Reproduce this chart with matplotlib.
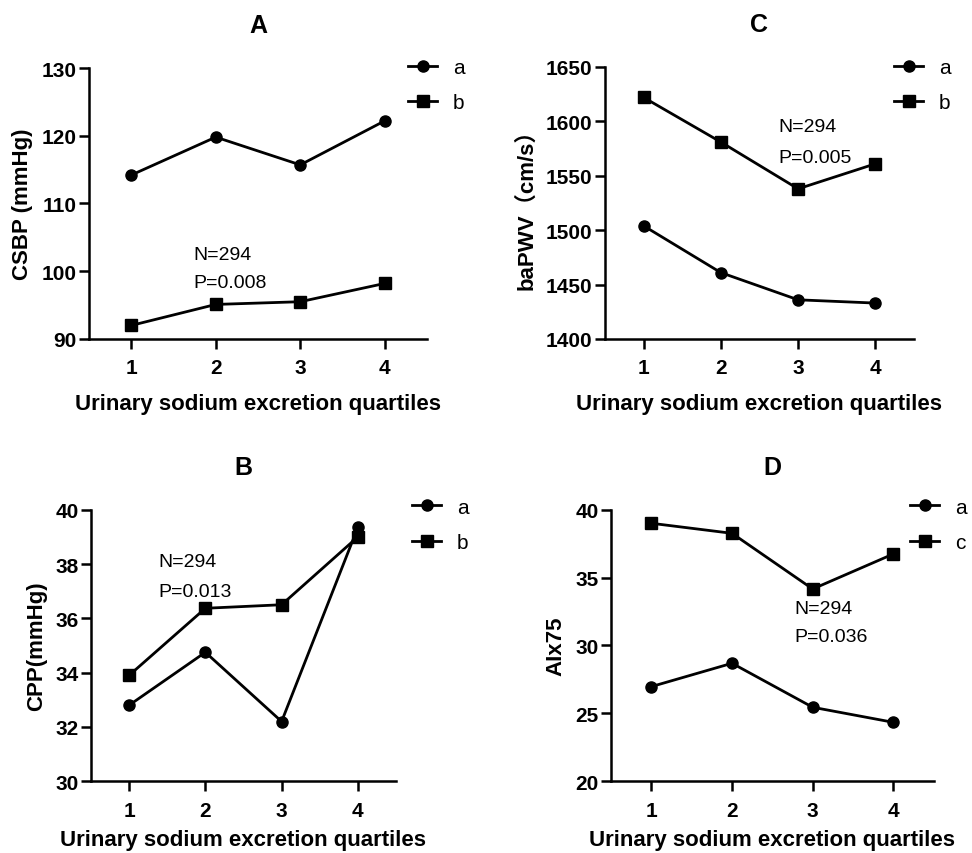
import matplotlib
matplotlib.use('Agg')
import matplotlib.pyplot as plt

plt.rcParams['font.family'] = ['Liberation Sans', 'Noto Sans CJK SC', 'DejaVu Sans']

quartiles = [1, 2, 3, 4]

# panel A: CSBP
csbp_a = [114.2, 119.8, 115.7, 122.2]
csbp_b = [92.0, 95.1, 95.5, 98.2]

# panel B: CPP
cpp_a = [32.8, 34.75, 32.2, 39.35]
cpp_b = [33.9, 36.37, 36.5, 39.0]

# panel C: baPWV
pwv_a = [1504, 1461, 1436, 1433]
pwv_b = [1622, 1581, 1538, 1561]

# panel D: AIx75
aix_a = [26.97, 28.69, 25.45, 24.34]
aix_c = [39.0, 38.26, 34.16, 36.74]

panels = [
    # title, ylabel, series a, series 2, label 2, ylim, yticks, text pos, p text, axes rect, legend anchor, xlabel pad
    ('A', 'CSBP (mmHg)', csbp_a, csbp_b, 'b', (90, 130), [90, 100, 110, 120, 130],
     (1.73, 102.5, 98.4), 'P=0.008', [0.0916, 0.6019, 0.3477, 0.3173], (0.4198, 0.931), 11),
    ('C', 'baPWV（cm/s）', pwv_a, pwv_b, 'b', (1400, 1650), [1400, 1450, 1500, 1550, 1600, 1650],
     (2.75, 1595, 1567), 'P=0.005', [0.6224, 0.6019, 0.3179, 0.3185], (0.9198, 0.931), 11),
    ('B', 'CPP(mmHg)', cpp_a, cpp_b, 'b', (30, 40), [30, 32, 34, 36, 38, 40],
     (1.39, 38.09, 37.0), 'P=0.013', [0.0936, 0.0840, 0.3138, 0.318], (0.4239, 0.416), 7),
    ('D', 'AIx75', aix_a, aix_c, 'c', (20, 40), [20, 25, 30, 35, 40],
     (2.77, 32.69, 30.68), 'P=0.036', [0.6286, 0.0840, 0.332, 0.318], (0.9365, 0.416), 7),
]

fig = plt.figure(figsize=(9.72, 8.54), dpi=100)

for title, ylabel, ya, y2, lab2, ylim, yticks, tpos, ptext, rect, leg_xy, xpad in panels:
    ax = fig.add_axes(rect)
    ax.plot(quartiles, ya, color='black', lw=2, marker='o', ms=8, label='a', clip_on=False)
    ax.plot(quartiles, y2, color='black', lw=2, marker='s', ms=8, label=lab2, clip_on=False)
    ax.set_xlim(0.5, 4.5)
    ax.set_ylim(*ylim)
    ax.set_xticks(quartiles)
    ax.set_yticks(yticks)
    for s in ['top', 'right']:
        ax.spines[s].set_visible(False)
    for s in ['left', 'bottom']:
        ax.spines[s].set_linewidth(1.8)
    ax.tick_params(width=1.8, length=7, labelsize=15)
    ax.tick_params(axis='x', pad=7)
    ax.tick_params(axis='y', pad=2)
    for lbl in ax.get_xticklabels() + ax.get_yticklabels():
        lbl.set_fontweight('bold')
    ax.set_xlabel('Urinary sodium excretion quartiles', fontsize=16, fontweight='bold', labelpad=xpad)
    ax.set_ylabel(ylabel, fontsize=16, fontweight='bold', labelpad=6)
    ax.set_title(title, fontsize=18, fontweight='bold', pad=26)
    ax.text(tpos[0], tpos[1], 'N=294', fontsize=14, va='center', ha='left')
    ax.text(tpos[0], tpos[2], ptext, fontsize=14, va='center', ha='left')
    ax.legend(loc='upper left', bbox_to_anchor=leg_xy, bbox_transform=fig.transFigure,
              frameon=False, fontsize=15, borderpad=0, borderaxespad=0,
              handlelength=1.4, handletextpad=0.75, labelspacing=0.78)

plt.savefig('out.png', dpi=100)
plt.close()
